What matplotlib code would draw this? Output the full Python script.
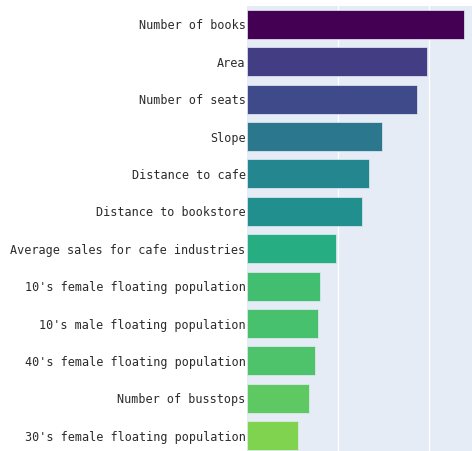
import numpy as np
import matplotlib
matplotlib.use("Agg")
import matplotlib.pyplot as plt
import matplotlib.colors as mcolors

# feature importance, top to bottom
features = [
    "Number of books",
    "Area",
    "Number of seats",
    "Slope",
    "Distance to cafe",
    "Distance to bookstore",
    "Average sales for cafe industries",
    "10's female floating population",
    "10's male floating population",
    "40's female floating population",
    "Number of busstops",
    "30's female floating population",
]
importance = [0.119, 0.0989, 0.0934, 0.0742, 0.0670, 0.0632,
              0.0489, 0.0401, 0.0390, 0.0374, 0.0340, 0.0280]
grid_ticks = [0.05, 0.10]

W, H = 472, 451
fig = plt.figure(figsize=(W / 100, H / 100), dpi=100)
ax = fig.add_axes([247 / W, -3.4 / H, 1 - 247 / W, 448.8 / H])
ax.set_facecolor("#E5ECF6")

cmap = plt.get_cmap("viridis_r")
norm = mcolors.Normalize(vmin=0.006, vmax=max(importance))
colors = [cmap(norm(v)) for v in importance]

y = np.arange(len(features))
ax.barh(y, importance, height=0.78, color=colors,
        edgecolor="#E5ECF6", linewidth=0.5, zorder=3)

ax.set_xlim(0, (W - 247) / 91 * 0.05)
ax.set_ylim(len(features) - 0.5, -0.5)
ax.set_xticks(grid_ticks)
ax.set_xticklabels([])
ax.tick_params(axis="x", length=0)
ax.grid(axis="x", color="white", linewidth=1, zorder=0)
ax.set_axisbelow(True)

ax.set_yticks(y)
ax.set_yticklabels(features, family="DejaVu Sans Mono", fontsize=8.5, color="#2b2b2b")
ax.tick_params(axis="y", length=0, pad=1)

for s in ax.spines.values():
    s.set_visible(False)

plt.savefig("out.png", dpi=100)
plt.close()
